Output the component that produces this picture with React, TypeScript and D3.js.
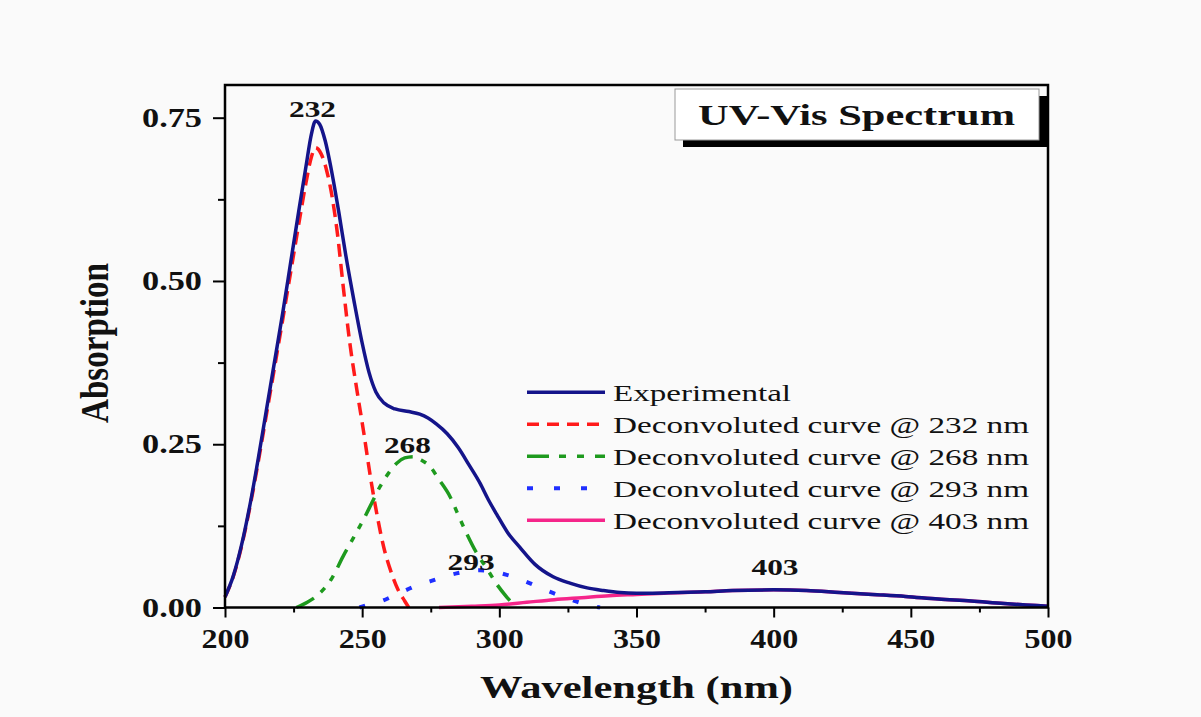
import React, { useEffect, useRef } from 'react';
import * as d3 from 'd3';

// --- data (wavelength nm, absorbance) ---
const experimental: [number, number][] = [
  [200, 0.016], [203, 0.048], [206, 0.095], [209, 0.155], [212, 0.225], [215, 0.3], [218, 0.375],
  [221, 0.45], [224, 0.53], [227, 0.61], [229.5, 0.675], [231.5, 0.725], [233, 0.745], [234.5, 0.74],
  [236.5, 0.715], [239, 0.665], [241.5, 0.605], [244, 0.54], [247, 0.47], [250, 0.405], [252.5, 0.36],
  [255, 0.33], [258, 0.313], [262, 0.304], [267, 0.3], [271, 0.296], [274, 0.29], [277, 0.281],
  [281, 0.266], [285, 0.245], [289, 0.218], [293, 0.19], [296, 0.165], [299, 0.143], [303, 0.115],
  [307.5, 0.092], [313, 0.066], [319.6, 0.047], [326, 0.037], [332, 0.03], [338, 0.026], [344, 0.023],
  [350, 0.022], [356, 0.022], [365, 0.023], [375, 0.024], [385, 0.026], [400, 0.027], [412, 0.026],
  [424, 0.023], [436, 0.02], [448, 0.017], [460, 0.013], [472, 0.01], [484, 0.006], [492, 0.004],
  [500, 0.002],
];

const decon232: [number, number][] = [
  [200, 0.016], [203, 0.047], [206, 0.093], [209, 0.152], [212, 0.22], [215, 0.293], [218, 0.366],
  [221, 0.44], [224, 0.515], [227, 0.59], [229.5, 0.65], [231.5, 0.69], [233, 0.704], [235, 0.695],
  [237, 0.67], [239, 0.63], [241, 0.572], [243, 0.495], [245.5, 0.405], [248, 0.335], [250.5, 0.27],
  [253, 0.2], [255.5, 0.14], [258, 0.09], [260.5, 0.055], [263, 0.028], [265.5, 0.01], [267, 0],
];

const decon268: [number, number][] = [
  [226, 0], [230, 0.008], [234.6, 0.022], [239, 0.045], [243, 0.078], [247, 0.108], [250.4, 0.134],
  [253.5, 0.16], [256.5, 0.185], [259.5, 0.205], [262.6, 0.221], [265.5, 0.229], [268.6, 0.231],
  [271.5, 0.226], [274.7, 0.216], [278, 0.196], [282, 0.17], [285, 0.142], [288, 0.114],
  [291.5, 0.085], [295.4, 0.06], [299, 0.036], [302.7, 0.016], [305, 0.005], [306, 0],
];

const decon293: [number, number][] = [
  [249, 0], [252, 0.004], [256.5, 0.009], [261, 0.017], [266.2, 0.027], [270, 0.034], [274.7, 0.04],
  [279, 0.046], [283.2, 0.051], [288, 0.055], [293, 0.057], [298, 0.055], [302.7, 0.05], [307, 0.044],
  [311.2, 0.037], [315.5, 0.029], [319.7, 0.022], [324, 0.015], [328.2, 0.009], [332, 0.004], [336.7, 0],
];

const decon403: [number, number][] = [
  [278, 0], [290, 0.002], [300, 0.004], [310, 0.008], [320, 0.012], [330, 0.015], [340, 0.018],
  [350, 0.02], [360, 0.022], [375, 0.024], [385, 0.026], [400, 0.027], [412, 0.026], [424, 0.023],
  [436, 0.02], [448, 0.017], [460, 0.013], [472, 0.01], [484, 0.006], [492, 0.004], [500, 0.002],
];

const legendLabels = [
  'Experimental',
  'Deconvoluted curve @ 232 nm',
  'Deconvoluted curve @ 268 nm',
  'Deconvoluted curve @ 293 nm',
  'Deconvoluted curve @ 403 nm',
];

const peakLabels = ['232', '268', '293', '403'];
// where each peak label sits, in data units (wavelength, absorbance)
const peakLabelAt: [number, number][] = [[231.9, 0.751], [266.5, 0.237], [289.7, 0.0575], [400.5, 0.05]];

const xMajorTicks = [200, 250, 300, 350, 400, 450, 500];
const xMinorTicks = [225, 275, 325, 375, 425, 475];
const yMajorTicks = [0, 0.25, 0.5, 0.75];
const yMinorTicks = [0.125, 0.375, 0.625];

const FONT = "'Liberation Serif', 'Times New Roman', serif";

// styles for the five series, same order as legend
const styles = [
  { color: '#14148a', dash: null, legendDash: null, width: 3.5 },
  { color: '#ff1a1a', dash: '13,7', legendDash: '12,8', width: 3.5 },
  { color: '#1e9a1e', dash: '20,9,6,9,6,9', legendDash: '22,10,7,11,7,11', width: 3.5 },
  { color: '#1f2fff', dash: '6,19', legendDash: '6,21', width: 4 },
  { color: '#f5258a', dash: null, legendDash: null, width: 3.5 },
];

const App = () => {
  const xAxisRef = useRef<SVGGElement>(null);
  const yAxisRef = useRef<SVGGElement>(null);

  const x = d3.scaleLinear().domain([200, 500]).range([225, 1048]);
  const y = d3.scaleLinear().domain([0, 0.75]).range([607.5, 117.7]);

  const line = d3.line<[number, number]>()
    .x(d => x(d[0]))
    .y(d => y(d[1]))
    .curve(d3.curveMonotoneX);

  useEffect(() => {
    // --- x axis ---
    const gx = d3.select(xAxisRef.current);
    gx.selectAll('*').remove();
    const gxMinor = gx.append('g');
    gxMinor.call(d3.axisBottom(x).tickValues(xMinorTicks).tickSize(5).tickFormat(() => ''));
    const gxMajor = gx.append('g');
    gxMajor.call(d3.axisBottom(x).tickValues(xMajorTicks).tickSize(10).tickPadding(11).tickFormat(d3.format('d')));
    gx.selectAll('.domain').remove();
    gx.selectAll('.tick line').attr('stroke', '#000').attr('stroke-width', 2);
    gxMajor.attr('font-size', 27).attr('font-family', FONT).attr('font-weight', 'bold');
    gxMajor.selectAll('.tick text')
      .attr('fill', '#111')
      .attr('textLength', 48)
      .attr('lengthAdjust', 'spacingAndGlyphs');

    // --- y axis ---
    const gy = d3.select(yAxisRef.current);
    gy.selectAll('*').remove();
    const gyMinor = gy.append('g');
    gyMinor.call(d3.axisLeft(y).tickValues(yMinorTicks).tickSize(7).tickFormat(() => ''));
    const gyMajor = gy.append('g');
    gyMajor.call(d3.axisLeft(y).tickValues(yMajorTicks).tickSize(12).tickPadding(11).tickFormat(d3.format('.2f')));
    gy.selectAll('.domain').remove();
    gy.selectAll('.tick line').attr('stroke', '#000').attr('stroke-width', 2);
    gyMajor.attr('font-size', 27).attr('font-family', FONT).attr('font-weight', 'bold');
    gyMajor.selectAll('.tick text')
      .attr('fill', '#111')
      .attr('textLength', 60)
      .attr('lengthAdjust', 'spacingAndGlyphs');
  }, []);

  const series = [experimental, decon232, decon268, decon293, decon403];
  // draw order: deconvoluted curves under the experimental one
  const drawOrder = [1, 2, 3, 4, 0];

  return (
    <svg width={1201} height={717} style={{ position: 'absolute', left: 0, top: 0 }}>
      <rect x={0} y={0} width={1201} height={717} fill="#fafafa" />

      {drawOrder.map(i => (
        <path
          key={i}
          d={line(series[i]) || ''}
          fill="none"
          stroke={styles[i].color}
          strokeWidth={styles[i].width}
          strokeDasharray={styles[i].dash || undefined}
          strokeLinejoin="round"
        />
      ))}

      {/* plot frame */}
      <rect x={225} y={85} width={823} height={522.5} fill="none" stroke="#000" strokeWidth={2.5} />
      <g ref={xAxisRef} transform="translate(0,607.5)" />
      <g ref={yAxisRef} transform="translate(225,0)" />

      {/* peak labels */}
      {peakLabels.map((t, i) => (
        <text
          key={t}
          x={x(peakLabelAt[i][0])}
          y={y(peakLabelAt[i][1])}
          textAnchor="middle"
          fontFamily={FONT}
          fontWeight="bold"
          fontSize={24}
          fill="#111"
          textLength={47}
          lengthAdjust="spacingAndGlyphs"
        >
          {t}
        </text>
      ))}

      {/* title box */}
      <rect x={683} y={96} width={364} height={51} fill="#000" />
      <rect x={675} y={89} width={364} height={51} fill="#fff" stroke="#999" strokeWidth={1} />
      <text
        x={856.5}
        y={125}
        textAnchor="middle"
        fontFamily={FONT}
        fontWeight="bold"
        fontSize={30}
        fill="#111"
        textLength={317}
        lengthAdjust="spacingAndGlyphs"
      >
        UV-Vis Spectrum
      </text>

      {/* legend */}
      {legendLabels.map((lab, i) => {
        const ly = 392.3 + i * 32;
        return (
          <g key={lab}>
            <line
              x1={527}
              x2={605}
              y1={ly}
              y2={ly}
              stroke={styles[i].color}
              strokeWidth={styles[i].width}
              strokeDasharray={styles[i].legendDash || undefined}
            />
            <text
              x={613}
              y={ly + 8.5}
              fontFamily={FONT}
              fontSize={23.5}
              fill="#111"
              textLength={i === 0 ? 178 : 416}
              lengthAdjust="spacingAndGlyphs"
            >
              {lab}
            </text>
          </g>
        );
      })}

      {/* axis titles */}
      <text
        x={636.5}
        y={698}
        textAnchor="middle"
        fontFamily={FONT}
        fontWeight="bold"
        fontSize={32}
        fill="#111"
        textLength={313}
        lengthAdjust="spacingAndGlyphs"
      >
        Wavelength (nm)
      </text>
      <text
        transform="translate(108,343) scale(1.22,1) rotate(-90)"
        textAnchor="middle"
        fontFamily={FONT}
        fontWeight="bold"
        fontSize={32}
        fill="#111"
        textLength={160}
        lengthAdjust="spacingAndGlyphs"
      >
        Absorption
      </text>
    </svg>
  );
};

export default App;
